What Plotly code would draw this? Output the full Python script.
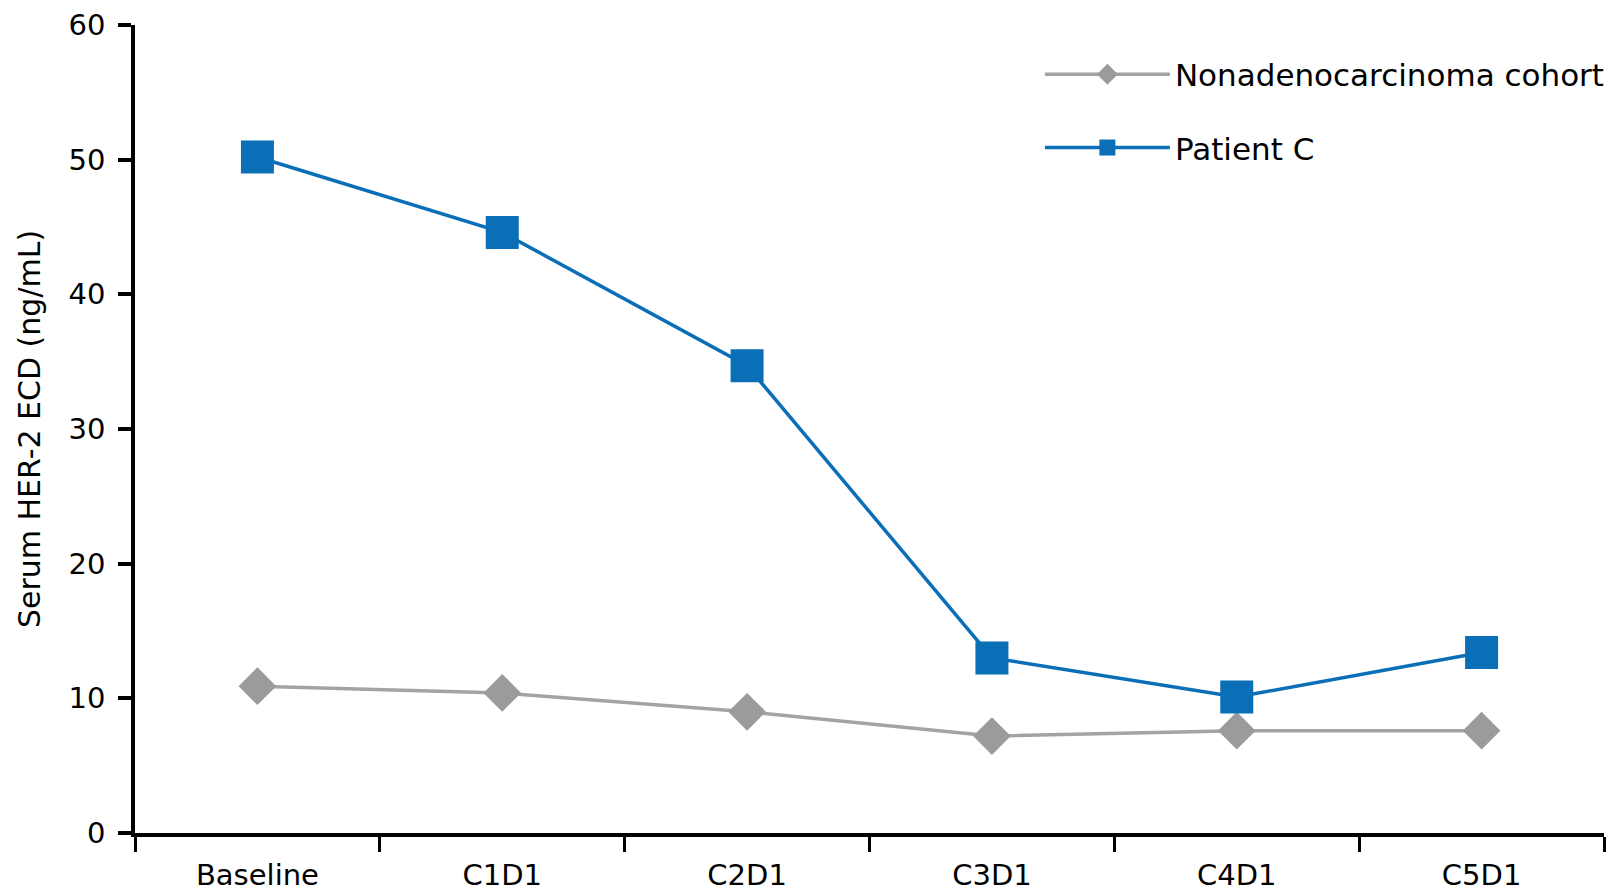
import plotly.graph_objects as go

timepoints = ["Baseline", "C1D1", "C2D1", "C3D1", "C4D1", "C5D1"]
cohort_values = [10.9, 10.4, 9.0, 7.2, 7.6, 7.6]
patient_c_values = [50.2, 44.6, 34.7, 13.0, 10.1, 13.4]
y_ticks = [0, 10, 20, 30, 40, 50, 60]

FONT = "DejaVu Sans, Arial, sans-serif"
BLUE = "#0b6fb8"
GRAY = "#9b9b9d"

fig = go.Figure()
fig.add_trace(go.Scatter(
    x=timepoints, y=cohort_values, name="Nonadenocarcinoma cohort",
    mode="lines+markers",
    line=dict(color="#a3a3a5", width=3.5),
    marker=dict(symbol="diamond", size=29, color=GRAY),
    legendgroup="a",
))
fig.add_trace(go.Scatter(
    x=timepoints, y=patient_c_values, name="Patient C",
    mode="lines+markers",
    line=dict(color=BLUE, width=3.5),
    marker=dict(symbol="square", size=33, color=BLUE),
    legendgroup="b",
))

# page body has an 8px margin, so the figure is sized/offset to compensate
fig.update_layout(
    width=1605, height=887,
    margin=dict(l=127, r=9, t=17, b=62, autoexpand=False),
    plot_bgcolor="white", paper_bgcolor="white",
    font=dict(family=FONT, color="black", size=29),
    showlegend=True,
    legend=dict(
        x=0.616, y=0.972, xanchor="left", yanchor="top",
        font=dict(family=FONT, size=31, color="black"),
        itemwidth=125,
        tracegroupgap=30,
        bgcolor="rgba(0,0,0,0)",
    ),
    xaxis=dict(
        type="category",
        range=[-0.5, 5.5],
        tickson="boundaries",
        ticks="outside", ticklen=15, tickwidth=3, tickcolor="black",
        showline=True, linecolor="black", linewidth=3.5,
        showgrid=False, zeroline=False, automargin=False,
        tickfont=dict(family=FONT, size=29, color="black"),
        ticklabelstandoff=13,
    ),
    yaxis=dict(
        range=[0, 60],
        tickvals=y_ticks,
        ticks="outside", ticklen=13, tickwidth=3.5, tickcolor="black",
        showline=True, linecolor="black", linewidth=3.5,
        showgrid=False, zeroline=False, automargin=False,
        tickfont=dict(family=FONT, size=29, color="black"),
        ticklabelstandoff=7,
        title=dict(text="Serum HER-2 ECD (ng/mL)", standoff=20,
                   font=dict(family=FONT, size=30, color="black")),
    ),
)

fig.write_html("out.html")
